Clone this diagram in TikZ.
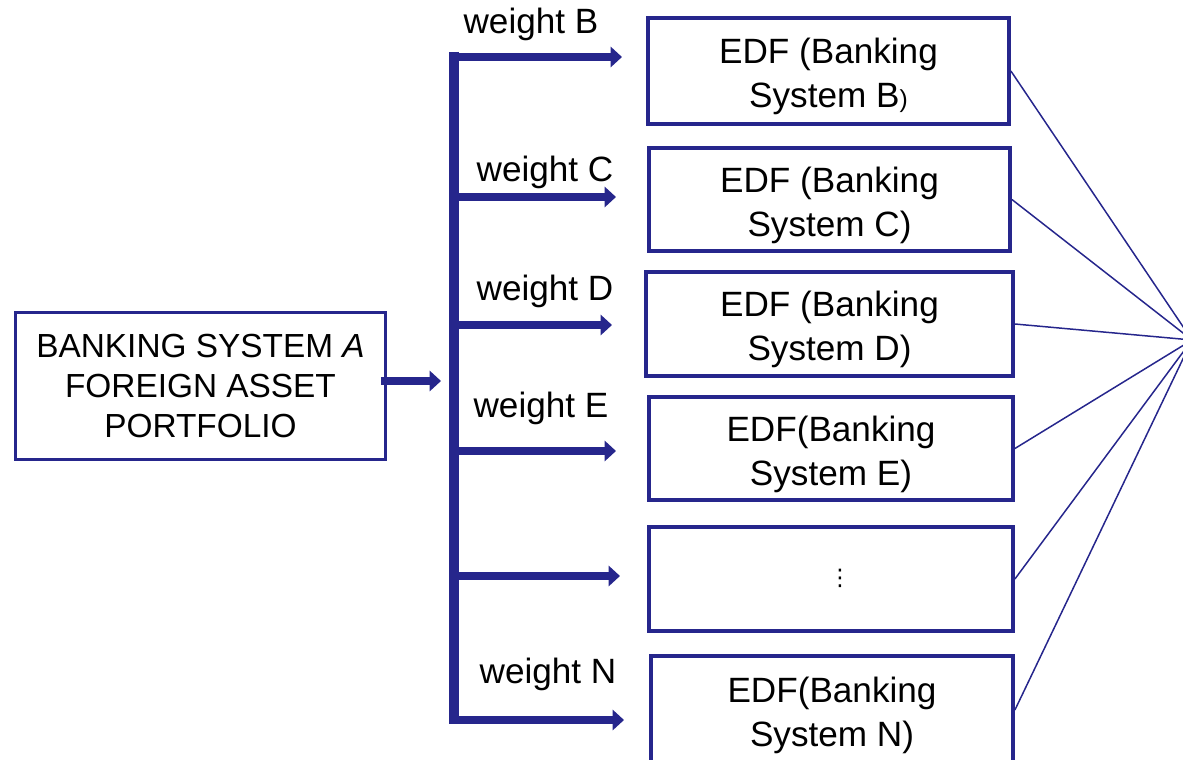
\documentclass[tikz,border=0pt]{standalone}
\usepackage{fontspec}
\setmainfont{Liberation Sans}
\newfontfamily\symfont{DejaVu Sans}
\usetikzlibrary{arrows.meta}
\definecolor{navy}{RGB}{38,38,140}
\newcommand{\edfstrut}{\rule{0pt}{21pt}}
\tikzset{
  edfbox/.style={draw=navy, line width=2.2pt, align=center, inner sep=0pt,
    minimum width=7.22cm, font=\fontsize{20}{25}\selectfont},
  srcbox/.style={draw=navy, line width=1.7pt, align=center, inner sep=0pt,
    font=\fontsize{19}{22.7}\selectfont},
  fatarrow/.style={navy, line width=5pt, -{Triangle[length=6.5pt,width=11.5pt]}},
  trunkline/.style={navy, line width=5.5pt},
  thinline/.style={navy, line width=0.85pt},
  wlabel/.style={font=\fontsize{20}{24}\selectfont, inner sep=0pt}
}
\begin{document}
\begin{tikzpicture}[x=0.02cm, y=-0.02cm]
    \useasboundingbox (0,0) rectangle (1183,760);
    % source portfolio
    \node[srcbox, minimum width=7.4cm, minimum height=2.94cm] (src) at (200.5,386)
        {BANKING SYSTEM \textit{A}\\FOREIGN ASSET\\PORTFOLIO};
    % EDF boxes
    \node[edfbox, minimum height=2.12cm] (bB) at (828.5,71) {\edfstrut EDF (Banking\\System B{\fontsize{14}{16}\selectfont)}};
    \node[edfbox, minimum height=2.06cm] (bC) at (829.5,199.5) {\edfstrut EDF (Banking\\System C)};
    \node[edfbox, minimum height=2.08cm, minimum width=7.34cm] (bD) at (829.5,324) {\edfstrut EDF (Banking\\System D)};
    \node[edfbox, minimum height=2.06cm, minimum width=7.28cm] (bE) at (831,448.5) {\edfstrut EDF(Banking\\System E)};
    \node[draw=navy, line width=2.2pt, inner sep=0pt, minimum height=2.08cm, minimum width=7.28cm] (bX) at (831,579) {};
    \node[font=\symfont\fontsize{13}{15}\selectfont, inner sep=0pt] (dots) at (840,578) {⋮};
    \node[edfbox, minimum height=2.16cm, minimum width=7.24cm] (bN) at (832,710) {\edfstrut EDF(Banking\\System N)};
    % weights
    \node[wlabel] (wB) at (531,24) {weight B};
    \node[wlabel] (wC) at (545,172) {weight C};
    \node[wlabel] (wD) at (545,291) {weight D};
    \node[wlabel] (wE) at (541,408) {weight E};
    \node[wlabel] (wN) at (548,674) {weight N};
    % trunk and branches
    \coordinate (inTip) at (441,381);
    \coordinate (trunkTop) at (454,52);
    \coordinate (trunkBot) at (454,724);
    \coordinate (tB) at (622,57);
    \coordinate (tC) at (616,197);
    \coordinate (tD) at (612,325);
    \coordinate (tE) at (616,451);
    \coordinate (tX) at (620,576);
    \coordinate (tN) at (624,720);
    \coordinate (hub) at (1192,340);
    \draw[fatarrow] (src.east |- inTip) ++(-6,0) -- (inTip);
    \draw[trunkline] (trunkTop) -- (trunkBot);
    \foreach \t in {tB,tC,tD,tE,tX,tN}
        \draw[fatarrow] (trunkTop |- \t) -- (\t);
    % lines to the right
    \foreach \b in {bB,bC,bD,bE,bX,bN}
        \draw[thinline] (\b.east) -- (hub);
\end{tikzpicture}
\end{document}
